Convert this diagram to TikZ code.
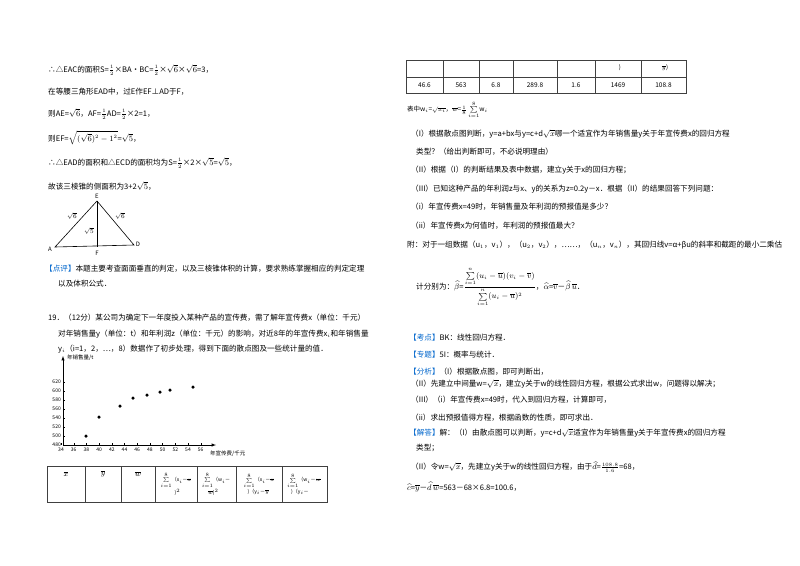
\documentclass[tikz,border=0pt]{standalone}
\usepackage{fontspec}
\setmainfont{Noto Sans CJK SC}
\usepackage{amsmath}
\definecolor{kblue}{RGB}{0,102,204}
\newcommand{\fs}{\fontsize{7.6}{9}\selectfont}
\newcommand{\kb}[1]{\textcolor{kblue}{【#1】}}
\begin{document}
\begin{tikzpicture}[x=1pt,y=-1pt,
  t/.style={anchor=west,inner sep=0pt,font=\fs},
  tc/.style={inner sep=0pt,font=\fs},
  tick/.style={font=\fontsize{5}{6}\selectfont,inner sep=1pt},
  grid/.style={line width=0.8pt,draw=black!75},
  dot/.style={circle,fill=black,inner sep=0pt,minimum size=3.5pt}]
\useasboundingbox[fill=white] (0,0) rectangle (800,565);
% ---------- left column ----------
\node[t] (l1) at (48,70) {∴△EAC的面积S=$\tfrac12$×BA•BC=$\tfrac12$×$\sqrt6$×$\sqrt6$=3，};
\node[t] (l2) at (48,92) {在等腰三角形EAD中，过E作EF⊥AD于F，};
\node[t] (l3) at (48,114) {则AE=$\sqrt6$，AF=$\tfrac12$AD=$\tfrac12$×2=1，};
\node[t] (l4) at (48,138) {则EF=$\sqrt{(\sqrt6)^2-1^2}$=$\sqrt5$，};
\node[t] (l5) at (48,163) {∴△EAD的面积和△ECD的面积均为S=$\tfrac12$×2×$\sqrt5$=$\sqrt5$，};
\node[t] (l6) at (48,186) {故该三棱锥的侧面积为3+2$\sqrt5$，};
% triangle
\coordinate (E) at (97,201);
\coordinate (A) at (55,247);
\coordinate (D) at (134,245);
\coordinate (F) at (97,247);
\draw[line width=0.6pt] (A) -- (E) -- (D) -- cycle;
\draw[line width=0.6pt] (E) -- (F);
\node[tc,font=\fontsize{6}{7}\selectfont\itshape] (nE) at (97,196) {E};
\node[tc,font=\fontsize{6}{7}\selectfont\itshape] (nA) at (50,249) {A};
\node[tc,font=\fontsize{6}{7}\selectfont\itshape] (nD) at (138,244) {D};
\node[tc,font=\fontsize{6}{7}\selectfont\itshape] (nF) at (97,253) {F};
\node[tc,font=\fontsize{6}{7}\selectfont] (s1) at (72,216) {$\sqrt6$};
\node[tc,font=\fontsize{6}{7}\selectfont] (s2) at (120,216) {$\sqrt6$};
\node[tc,font=\fontsize{6}{7}\selectfont] (s3) at (89,231) {$\sqrt5$};
\node[t] (p1) at (45,269) {\kb{点评}本题主要考查面面垂直的判定，以及三棱锥体积的计算，要求熟练掌握相应的判定定理};
\node[t] (p2) at (58,284) {以及体积公式．};
\node[t] (q1) at (48,318) {19．（12分）某公司为确定下一年度投入某种产品的宣传费，需了解年宣传费x（单位：千元）};
\node[t] (q2) at (58,334) {对年销售量y（单位：t）和年利润z（单位：千元）的影响，对近8年的年宣传费x$_i$和年销售量};
\node[t] (q3) at (58,349) {y$_i$（i=1，2，…，8）数据作了初步处理，得到下面的散点图及一些统计量的值．};
% chart
\coordinate (O) at (63,445);
\coordinate (Ytop) at (63,356);
\coordinate (Xend) at (216,445);
\draw[line width=0.5pt,-latex] (O) -- (Ytop);
\draw[line width=0.5pt,-latex] (O) -- (Xend);
\node[t,font=\fontsize{5.5}{6}\selectfont] (ylab) at (67,358) {年销售量/t};
\node[t,font=\fontsize{5.5}{6}\selectfont] (xlab) at (210,454) {年宣传费/千元};
\foreach \v in {480,500,...,620}{
  \draw (63,{445-(\v-480)*0.45}) -- (65,{445-(\v-480)*0.45});
  \node[tick,anchor=east] at (62,{445-(\v-480)*0.45}) {\v};}
\foreach \v in {34,36,...,56}{
  \draw ({61+(\v-34)*6.35},445) -- ({61+(\v-34)*6.35},443);
  \node[tick,anchor=north] at ({61+(\v-34)*6.35},447) {\v};}
\foreach \p in {(86,436),(99,417),(120,406),(133,398),(147,395),(160,392),(170,390),(193,387)}
  \node[dot] at \p {};
% left table
\draw[grid] (47,466) rectangle (327,502);
\foreach \x in {85,121,155,197,236,282} \draw[grid] (\x,466) -- (\x,502);
\node[tc] (h1) at (66,474) {$\overline{x}$};
\node[tc] (h2) at (103,474) {$\overline{y}$};
\node[tc] (h3) at (138,474) {$\overline{w}$};
\node[tc,font=\fontsize{5}{6}\selectfont,align=left] (h4) at (176,484) {$\sum\limits_{i=1}^{8}$（x$_i$－$\overline{x}$\\\hspace*{14pt})$^2$};
\node[tc,font=\fontsize{5}{6}\selectfont,align=left] (h5) at (216,484) {$\sum\limits_{i=1}^{8}$（w$_i$－\\\hspace*{6pt}$\overline{w}$)$^2$};
\node[tc,font=\fontsize{5}{6}\selectfont,align=left] (h6) at (259,484) {$\sum\limits_{i=1}^{8}$（x$_i$－$\overline{x}$\\\hspace*{4pt})（y$_i$－$\overline{y}$};
\node[tc,font=\fontsize{5}{6}\selectfont,align=left] (h7) at (304,484) {$\sum\limits_{i=1}^{8}$（w$_i$－$\overline{w}$\\\hspace*{4pt})（y$_i$－};
% ---------- right column ----------
\draw[grid] (406,60.5) rectangle (686,93);
\draw[grid] (406,77) -- (686,77);
\foreach \x in {443,479,513,557,595,641} \draw[grid] (\x,60.5) -- (\x,93);
\node[tc,font=\fontsize{6}{7}\selectfont] (c6) at (620,68) {)};
\node[tc,font=\fontsize{6}{7}\selectfont] (c7) at (665,68) {$\overline{y}$)};
\foreach \v/\x in {46.6/424.5,563/461,6.8/496,289.8/535,1.6/576,1469/618,108.8/663.5}
  \node[tc,font=\fontsize{6.5}{7}\selectfont] at (\x,85) {\v};
\node[t,font=\fontsize{6.5}{8}\selectfont] (r0) at (407,110) {表中w$_i$=$\sqrt{x_i}$，$\overline{w}$=$\tfrac18\sum\limits_{i=1}^{8}$w$_i$};
\node[t] (r1) at (411,134) {（I）根据散点图判断，y=a+bx与y=c+d$\sqrt{x}$哪一个适宜作为年销售量y关于年宣传费x的回归方程};
\node[t] (r2) at (416,152) {类型？（给出判断即可，不必说明理由）};
\node[t] (r3) at (411,170) {（II）根据（I）的判断结果及表中数据，建立y关于x的回归方程；};
\node[t] (r4) at (411,189) {（III）已知这种产品的年利润z与x、y的关系为z=0.2y－x．根据（II）的结果回答下列问题：};
\node[t] (r5) at (411,207) {（i）年宣传费x=49时，年销售量及年利润的预报值是多少？};
\node[t] (r6) at (411,226) {（ii）年宣传费x为何值时，年利润的预报值最大？};
\node[t] (r7) at (407,245) {附：对于一组数据（u$_1$，v$_1$），（u$_2$，v$_2$），……，（u$_n$，v$_n$），其回归线v=α+βu的斜率和截距的最小二乘估};
\node[t] (r8) at (416,287) {计分别为：$\widehat{\beta}$=$\dfrac{\sum\limits_{i=1}^{n}(u_i-\overline{u})(v_i-\overline{v})}{\sum\limits_{i=1}^{n}(u_i-\overline{u})^2}$，$\widehat{\alpha}$=$\overline{v}$－$\widehat{\beta}\,\overline{u}$．};
\node[t] (r9) at (409,338) {\kb{考点}BK：线性回归方程．};
\node[t] (r10) at (409,355) {\kb{专题}5I：概率与统计．};
\node[t] (r11) at (409,372) {\kb{分析}（I）根据散点图，即可判断出，};
\node[t] (r12) at (411,384) {（II）先建立中间量w=$\sqrt{x}$，建立y关于w的线性回归方程，根据公式求出w，问题得以解决；};
\node[t] (r13) at (411,400) {（III）（i）年宣传费x=49时，代入到回归方程，计算即可，};
\node[t] (r14) at (411,418) {（ii）求出预报值得方程，根据函数的性质，即可求出．};
\node[t] (r15) at (409,433) {\kb{解答}解：（I）由散点图可以判断，y=c+d$\sqrt{x}$适宜作为年销售量y关于年宣传费x的回归方程};
\node[t] (r16) at (416,448) {类型；};
\node[t] (r17) at (411,467) {（II）令w=$\sqrt{x}$，先建立y关于w的线性回归方程，由于$\widehat{d}$=$\tfrac{108.8}{1.6}$=68，};
\node[t] (r18) at (407,487) {$\widehat{c}$=$\overline{y}$－$\widehat{d}\,\overline{w}$=563－68×6.8=100.6，};
\end{tikzpicture}
\end{document}
